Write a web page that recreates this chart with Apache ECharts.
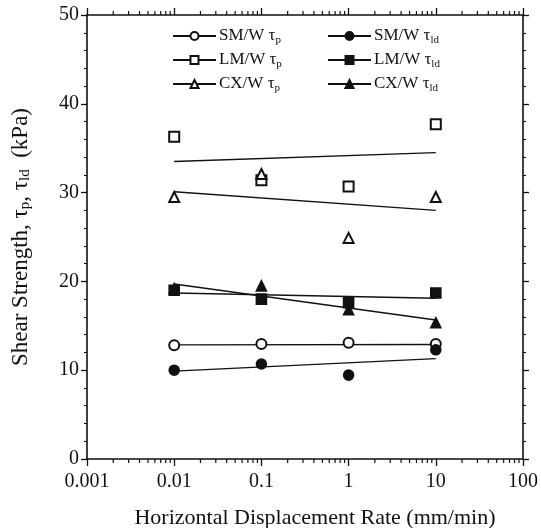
<!DOCTYPE html>
<html>
<head>
<meta charset="utf-8">
<script src="https://cdn.jsdelivr.net/npm/echarts@6/dist/echarts.min.js"></script>
<style>
html,body{margin:0;padding:0;background:#fff;}
#chart{width:541px;height:528px;}
</style>
</head>
<body>
<div id="chart"></div>
<script>
// ---- data ----
const rates = [0.01, 0.1, 1, 10];
const smTp  = [12.8, 12.95, 13.1, 12.95];
const smTld = [10.0, 10.7, 9.45, 12.3];
const lmTp  = [36.3, 31.4, 30.7, 37.7];
const lmTld = [19.0, 18.0, 17.6, 18.7];
const cxTp  = [29.5, 32.1, 24.9, 29.5];
const cxTld = [19.2, 19.5, 16.8, 15.35];

const fitRates = [0.01, 10];
const smTpFit  = [12.85, 12.9];
const smTldFit = [9.9, 11.3];
const lmTpFit  = [33.5, 34.5];
const lmTldFit = [18.7, 18.1];
const cxTpFit  = [30.1, 28.0];
const cxTldFit = [19.7, 15.65];

const xTickLabels = ['0.001', '0.01', '0.1', '1', '10', '100'];
const xMinorTicks = [0.002,0.003,0.004,0.005,0.006,0.007,0.008,0.009,
                     0.02,0.03,0.04,0.05,0.06,0.07,0.08,0.09,
                     0.2,0.3,0.4,0.5,0.6,0.7,0.8,0.9,
                     2,3,4,5,6,7,8,9,
                     20,30,40,50,60,70,80,90];

const FONT = '"Liberation Serif", "DejaVu Serif", serif';

const groups = [
  {name: 'SM/W τp',  pts: smTp,  fit: smTpFit,  symbol: 'emptyCircle',   size: 10},
  {name: 'SM/W τld', pts: smTld, fit: smTldFit, symbol: 'circle',        size: 10},
  {name: 'LM/W τp',  pts: lmTp,  fit: lmTpFit,  symbol: 'emptyRect',     size: 10},
  {name: 'LM/W τld', pts: lmTld, fit: lmTldFit, symbol: 'rect',          size: 10},
  {name: 'CX/W τp',  pts: cxTp,  fit: cxTpFit,  symbol: 'emptyTriangle', size: 10},
  {name: 'CX/W τld', pts: cxTld, fit: cxTldFit, symbol: 'triangle',      size: 10}
];

const series = [];
groups.forEach(g => {
  series.push({
    name: g.name, type: 'line', xAxisIndex: 0, yAxisIndex: 0,
    data: fitRates.map((x, i) => [x, g.fit[i]]),
    symbol: g.symbol, showSymbol: false, symbolSize: g.size,
    lineStyle: {color: '#111', width: 1.4},
    itemStyle: {color: '#111', borderColor: '#111', borderWidth: 1.5, opacity: 1},
    silent: true, z: 2
  });
});
groups.forEach(g => {
  series.push({
    name: g.name, type: 'scatter', xAxisIndex: 0, yAxisIndex: 0,
    data: rates.map((x, i) => [x, g.pts[i]]),
    symbol: g.symbol, symbolSize: g.size,
    itemStyle: {color: '#111', borderColor: '#111', borderWidth: 1.6, opacity: 1},
    z: 3
  });
});
series.push({
  type: 'custom', xAxisIndex: 0, yAxisIndex: 0, silent: true, clip: false,
  data: xMinorTicks.map(v => [v, 0]),
  renderItem: function (params, api) {
    const v = api.value(0);
    const b = api.coord([v, 0]);
    const t = api.coord([v, 50]);
    return {type: 'group', children: [
      {type: 'line', shape: {x1: b[0], y1: b[1], x2: b[0], y2: b[1] + 4}, style: {stroke: '#111', lineWidth: 1.2}},
      {type: 'line', shape: {x1: t[0], y1: t[1], x2: t[0], y2: t[1] - 4}, style: {stroke: '#111', lineWidth: 1.2}}
    ]};
  }
});

function legendFmt(name) {
  const m = name.match(/^(.*τ)(p|ld)$/);
  return '{b|' + m[1] + '}{s|' + m[2] + '}';
}
const legendRich = {
  b: {fontFamily: FONT, fontSize: 17, color: '#111', lineHeight: 20},
  s: {fontFamily: FONT, fontSize: 11, color: '#111', lineHeight: 11, padding: [9, 0, 0, 0]}
};
const legendBase = {
  orient: 'vertical', itemWidth: 43, itemHeight: 10, itemGap: 4, padding: 0,
  formatter: legendFmt, selectedMode: false,
  textStyle: {rich: legendRich, padding: [0, 0, 0, -2]}
};

const axisLineStyle = {color: '#111', width: 1.6};
const xAxisCommon = {
  type: 'log', logBase: 10, min: 0.001, max: 100,
  axisLine: {show: true, onZero: false, lineStyle: axisLineStyle},
  axisTick: {show: true, inside: false, length: 7, lineStyle: {color: '#111', width: 1.3}},
  splitLine: {show: false}
};
const yAxisCommon = {
  type: 'value', min: 0, max: 50, interval: 10,
  axisLine: {show: true, onZero: false, lineStyle: axisLineStyle},
  axisTick: {show: true, inside: false, length: 6, lineStyle: {color: '#111', width: 1.3}},
  minorTick: {show: true, splitNumber: 5, length: 3, lineStyle: {color: '#111', width: 1.1}},
  splitLine: {show: false}
};

const option = {
  animation: false,
  backgroundColor: '#fff',
  grid: {left: 87, right: 18, top: 15, bottom: 69, containLabel: false, outerBoundsMode: 'none'},
  legend: [
    Object.assign({}, legendBase, {left: 172, top: 26, data: ['SM/W τp', 'LM/W τp', 'CX/W τp']}),
    Object.assign({}, legendBase, {left: 327, top: 26, data: ['SM/W τld', 'LM/W τld', 'CX/W τld']})
  ],
  xAxis: [
    Object.assign({}, xAxisCommon, {
      position: 'bottom',
      name: 'Horizontal Displacement Rate (mm/min)',
      nameLocation: 'middle', nameGap: 48,
      nameTextStyle: {fontFamily: FONT, fontSize: 22, color: '#111', padding: [0, 0, 0, 20]},
      axisLabel: {
        fontFamily: FONT, fontSize: 20, color: '#111', margin: 13,
        formatter: v => xTickLabels[Math.round(Math.log10(v)) + 3]
      }
    }),
    Object.assign({}, xAxisCommon, {position: 'top', axisLabel: {show: false}})
  ],
  yAxis: [
    Object.assign({}, yAxisCommon, {
      position: 'left',
      name: 'Shear Strength, τ{s|p}, τ{s|ld}  (kPa)',
      nameLocation: 'middle', nameGap: 54, nameRotate: 90,
      nameTextStyle: {
        fontFamily: FONT, fontSize: 23, color: '#111',
        rich: {s: {fontFamily: FONT, fontSize: 15, color: '#111', padding: [10, 0, 0, 0]}}
      },
      axisLabel: {fontFamily: FONT, fontSize: 20, color: '#111', margin: 8}
    }),
    Object.assign({}, yAxisCommon, {position: 'right', axisLabel: {show: false}})
  ],
  series: series
};

const chart = echarts.init(document.getElementById('chart'), null, {renderer: 'canvas'});
chart.setOption(option);
</script>
</body>
</html>
